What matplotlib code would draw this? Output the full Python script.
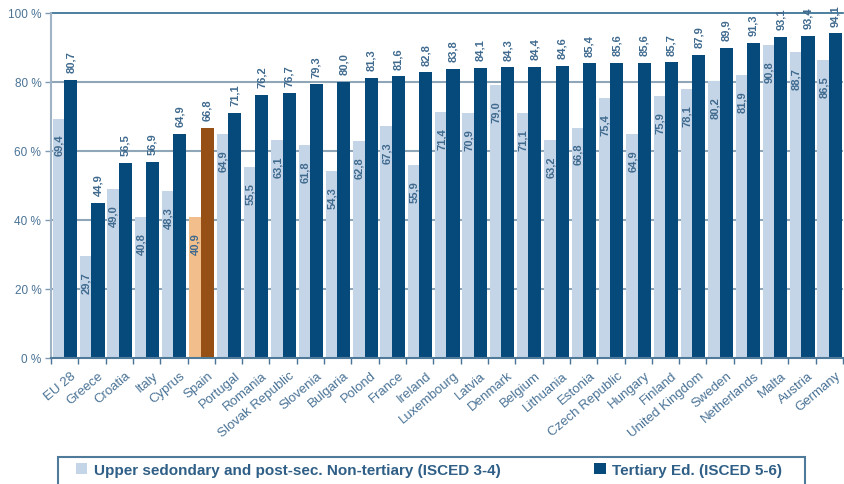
import matplotlib
matplotlib.use("Agg")
import matplotlib.pyplot as plt
from matplotlib.patches import Patch, Rectangle
from matplotlib.ticker import FixedLocator, FuncFormatter

paises = ["EU 28", "Greece", "Croatia", "Italy", "Cyprus", "Spain", "Portugal",
          "Romania", "Slovak Republic", "Slovenia", "Bulgaria", "Polond", "France",
          "Ireland", "Luxembourg", "Latvia", "Denmark", "Belgium", "Lithuania",
          "Estonia", "Czech Republic", "Hungary", "Finland", "United Kingdom",
          "Sweden", "Netherlands", "Malta", "Austria", "Germany"]

secundaria = [69.4, 29.7, 49.0, 40.8, 48.3, 40.9, 64.9, 55.5, 63.1, 61.8, 54.3,
              62.8, 67.3, 55.9, 71.4, 70.9, 79.0, 71.1, 63.2, 66.8, 75.4, 64.9,
              75.9, 78.1, 80.2, 81.9, 90.8, 88.7, 86.5]

terciaria = [80.7, 44.9, 56.5, 56.9, 64.9, 66.8, 71.1, 76.2, 76.7, 79.3, 80.0,
             81.3, 81.6, 82.8, 83.8, 84.1, 84.3, 84.4, 84.6, 85.4, 85.6, 85.6,
             85.7, 87.9, 89.9, 91.3, 93.1, 93.4, 94.1]

destaque = "Spain"
leg_sec = "Upper sedondary and post-sec. Non-tertiary (ISCED 3-4)"
leg_ter = "Tertiary Ed. (ISCED 5-6)"

# cores
claro = "#c5d5e8"
escuro = "#064a7c"
claro_es = "#f2bf8c"
escuro_es = "#964f14"
texto = "#4a7396"
rotulo = "#3f6a8e"

plt.rcParams["font.family"] = ["Liberation Sans", "DejaVu Sans"]

fig = plt.figure(figsize=(8.44, 4.85), dpi=100)
ax = fig.add_axes([51 / 844, 126 / 485, 792 / 844, 345 / 485])

x = list(range(len(paises)))
cores_sec = [claro_es if p == destaque else claro for p in paises]
cores_ter = [escuro_es if p == destaque else escuro for p in paises]

ax.bar([i - 0.215 for i in x], secundaria, width=0.44, color=cores_sec, zorder=2)
ax.bar([i + 0.22 for i in x], terciaria, width=0.48, color=cores_ter, zorder=3)

for i in x:
    ax.annotate(f"{secundaria[i]:.1f}".replace(".", ","),
                (i - 0.2, secundaria[i]), xytext=(0, -11), textcoords="offset points",
                rotation=90, ha="center", va="top", fontsize=8, fontweight="bold",
                color=rotulo, zorder=4)
    ax.annotate(f"{terciaria[i]:.1f}".replace(".", ","),
                (i + 0.22, terciaria[i]), xytext=(0, 5.5), textcoords="offset points",
                rotation=90, ha="center", va="bottom", fontsize=8, fontweight="bold",
                color=rotulo, zorder=4, annotation_clip=False)

ax.set_xlim(-0.5, len(paises) - 0.5)
ax.set_ylim(0, 100)

# marcas nas fronteiras, nomes deslocados para a direita
ax.xaxis.set_major_locator(FixedLocator([i - 0.5 for i in x] + [len(paises) - 0.5]))
ax.xaxis.set_major_formatter(FuncFormatter(lambda v, pos: ""))
ax.set_xticks([i + 0.22 for i in x], minor=True)
ax.set_xticklabels(paises, minor=True, rotation=40, ha="right",
                   rotation_mode="anchor", fontsize=9.5, color=texto)
ax.tick_params(axis="x", which="major", length=4, width=1, color=texto, direction="out")
ax.tick_params(axis="x", which="minor", length=0, pad=8)

ax.set_yticks([0, 20, 40, 60, 80, 100])
ax.set_yticklabels(["0 %", "20 %", "40 %", "60 %", "80 %", "100 %"],
                   fontsize=8.5, color=texto)
ax.tick_params(axis="y", length=4, width=1, color="#7f9bb3", pad=3)

for y in [20, 40, 60, 80]:
    ax.axhline(y, color="#8ea6b8", linewidth=1.5, zorder=1)
ax.axhline(100, color="#2f6a8e", linewidth=1.2, zorder=1, clip_on=False)

for lado in ["top", "right"]:
    ax.spines[lado].set_visible(False)
ax.spines["left"].set_color("#9fb3c4")
ax.spines["left"].set_linewidth(1.5)
ax.spines["bottom"].set_color("#4f7a9a")
ax.spines["bottom"].set_linewidth(1.5)
ax.spines["bottom"].set_zorder(5)

# caixa da legenda (passa da borda inferior, como no original)
fig.patches.append(Rectangle((58 / 844, -0.05), 747 / 844, 27 / 485 + 0.05,
                             transform=fig.transFigure, fill=False,
                             edgecolor="#4f7a9a", linewidth=1.5))

alcas = [Patch(facecolor=claro, edgecolor="none", label=leg_sec),
         Patch(facecolor=escuro, edgecolor="none", label=leg_ter)]
leg = fig.legend(handles=alcas, loc="center left", ncol=2, mode="expand",
                 bbox_to_anchor=(76 / 844, 14 / 485, 706 / 844, 0),
                 frameon=False, handlelength=0.75, handleheight=0.75,
                 handletextpad=0.4, borderaxespad=0, borderpad=0,
                 prop={"size": 11, "weight": "bold"})
for t in leg.get_texts():
    t.set_color("#2f5f86")

fig.savefig("out.png", dpi=100)
